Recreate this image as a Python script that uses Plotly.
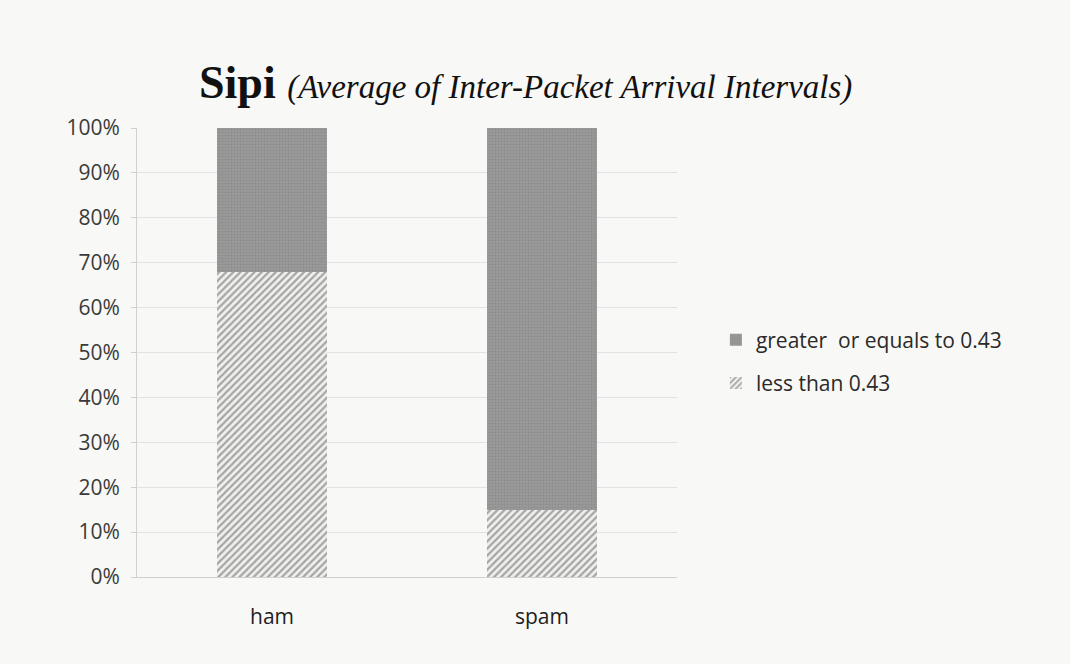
import plotly.graph_objects as go

categories = ["ham", "spam"]
less_than = [0.68, 0.15]
greater_equal = [0.32, 0.85]
tick_vals = [0, 0.1, 0.2, 0.3, 0.4, 0.5, 0.6, 0.7, 0.8, 0.9, 1.0]
tick_text = ["0%", "10%", "20%", "30%", "40%", "50%", "60%", "70%", "80%", "90%", "100%"]

W, H = 1070, 664
left, right = 137, 677
top, bottom = 128, 577

fig = go.Figure()
fig.add_trace(go.Bar(
    x=categories, y=less_than, name="less than 0.43",
    width=0.41, legendgroup="lt", legendrank=2,
    marker=dict(color="#ffffff", line=dict(width=0),
                pattern=dict(shape="/", fgcolor="#5a5a5a", bgcolor="#f0f0ee",
                             size=5, solidity=0.45)),
))
fig.add_trace(go.Bar(
    x=categories, y=greater_equal, name="greater  or equals to 0.43",
    width=0.41, legendgroup="ge", legendrank=1,
    marker=dict(color="#8e8e8e", line=dict(width=0),
                pattern=dict(shape=".", fgcolor="#7c7c7c", bgcolor="#9a9a9a",
                             size=3, solidity=0.4)),
))

fig.update_layout(
    barmode="stack",
    width=W, height=H,
    paper_bgcolor="#f8f8f6",
    plot_bgcolor="#f8f8f6",
    margin=dict(l=left, r=W - right, t=top, b=H - bottom, autoexpand=False),
    font=dict(family="'Open Sans', Lato, sans-serif", color="#3a3a3a", size=21),
    showlegend=True,
    legend=dict(x=1.072, y=0.48, xanchor="left", yanchor="middle",
                traceorder="grouped", bgcolor="rgba(0,0,0,0)",
                font=dict(size=21, color="#2a2a2a"), itemwidth=30,
                tracegroupgap=13),
    annotations=[dict(
        text="<b>Sipi</b> <i><span style='font-size:33px'>(Average of Inter-Packet Arrival Intervals)</span></i>",
        xref="paper", yref="paper", x=0.72, y=1.0, yshift=46,
        xanchor="center", yanchor="middle", showarrow=False,
        font=dict(family="'Liberation Serif', 'DejaVu Serif', serif", size=46, color="#111111"),
    )],
)
fig.update_xaxes(
    range=[-0.5, 1.5], showgrid=False, showline=True, linecolor="#cfcfcf",
    linewidth=1, ticks="", tickfont=dict(size=21, color="#1e1e1e"),
    ticklabelstandoff=21,
)
fig.update_yaxes(
    range=[0, 1.0], tickvals=tick_vals, ticktext=tick_text,
    showgrid=True, gridcolor="#e2e2e2", gridwidth=1,
    showline=True, linecolor="#d0d0d0", ticks="outside", ticklen=5,
    tickcolor="#d0d0d0", tickfont=dict(size=21, color="#3a3a3a"),
    zeroline=False, ticklabelstandoff=7,
)

fig.write_html("out.html")
